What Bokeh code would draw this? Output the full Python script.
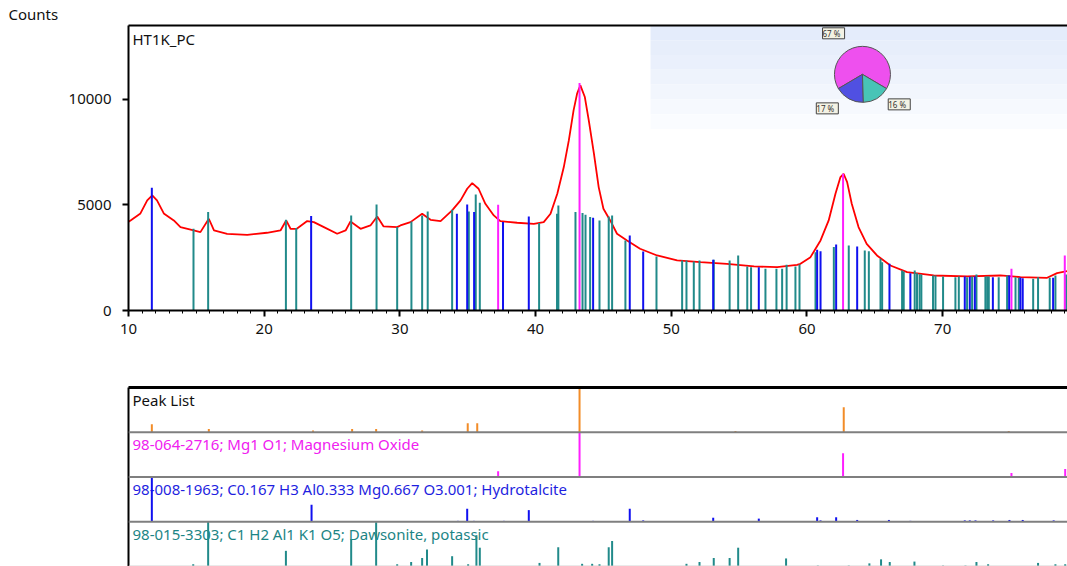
from bokeh.plotting import figure
from bokeh.layouts import column
from bokeh.models import Range1d, FixedTicker, Label, LinearAxis, Span, ColumnDataSource
from bokeh.embed import file_html
from bokeh.resources import INLINE
from bokeh.core.properties import value
import math

FONT = "Noto Sans"

# ---------------- data ----------------
# measured pattern (2theta, counts)
scan_x = [10.0, 10.15, 10.88, 11.38, 11.75, 12.1, 12.6, 13.34, 13.83, 14.8, 15.3, 15.92, 16.3,
          17.27, 18.75, 20.2, 21.2, 21.62, 21.94, 22.4, 23.17, 23.66, 24.4, 25.38, 26.0, 26.36,
          27.1, 27.83, 28.33, 28.8, 29.8, 30.04, 30.78, 31.64, 32.26, 33.0, 33.85, 34.47, 34.96,
          35.33, 35.8, 36.3, 36.92, 37.4, 38.64, 39.87, 40.6, 41.1, 41.6, 42.08, 42.45, 42.8,
          43.06, 43.3, 43.63, 43.92, 44.3, 44.65, 45.0, 45.5, 46.0, 46.74, 47.7, 48.96, 50.43,
          52.15, 54.1, 56.1, 57.8, 59.27, 59.52, 60.26, 61.0, 61.6, 62.1, 62.47, 62.7, 62.96,
          63.3, 63.8, 64.4, 65.16, 66.15, 67.38, 69.34, 71.8, 74.26, 75.73, 77.7, 78.43, 79.17]
scan_y = [4200, 4266, 4598, 5214, 5451, 5214, 4598, 4266, 3950, 3792, 3713, 4346, 3792,
          3634, 3587, 3682, 3792, 4266, 3871, 3871, 4235, 4187, 3950, 3634, 3792, 4219,
          3871, 4029, 4456, 3982, 3950, 4029, 4187, 4582, 4297, 4235, 4740, 5214, 5767,
          6035, 5767, 5056, 4503, 4235, 4156, 4108, 4187, 4582, 5530, 6794, 8058, 9480,
          10272, 10665, 10111, 9006, 7427, 5845, 4820, 4266, 3634, 3318, 2924, 2607, 2370,
          2291, 2212, 2086, 2054, 2165, 2212, 2528, 3318, 4266, 5530, 6320, 6478, 6083,
          5056, 3950, 3160, 2607, 2133, 1817, 1659, 1612, 1659, 1580, 1549, 1770, 1865]

# reference sticks drawn in the main panel (2theta, counts)
hyd_top_x = [11.72, 23.46, 34.2, 34.96, 35.47, 37.6, 39.5, 44.24, 46.94, 47.93, 53.09, 56.45,
             60.75, 61.0, 62.15, 63.7, 66.08, 67.62, 71.63, 72.0, 72.37, 73.7, 74.9, 75.73,
             75.9, 78.14]
hyd_top_y = [5816, 4471, 4582, 5025, 4661, 4187, 4456, 4392, 3555, 2797, 2402, 2054,
             2876, 2812, 3128, 3034, 2212, 1770, 1612, 1600, 1612, 1580, 1659, 1560,
             1533, 1549]
mgo_top_x = [37.24, 43.24, 62.66, 75.07, 79.0]
mgo_top_y = [5009, 10775, 6478, 1975, 2607]
daw_top_x = [14.79, 15.87, 21.6, 22.36, 26.41, 28.28, 29.8, 30.85, 31.64, 32.05, 33.85, 35.08,
             35.59, 35.89, 40.26, 41.58, 41.68, 42.94, 43.46, 43.68, 44.02, 44.71, 45.39, 45.64,
             46.62, 48.91, 50.8, 51.12, 51.66, 52.08, 53.13, 54.3, 54.93, 55.6, 55.88, 56.94,
             57.75, 58.17, 58.5, 59.15, 59.45, 60.63, 61.98, 63.08, 64.26, 64.56, 65.42, 65.54,
             67.01, 67.13, 67.94, 68.11, 68.3, 68.43, 69.29, 69.47, 70.03, 70.94, 71.19, 71.8,
             72.17, 72.49, 73.15, 73.28, 73.4, 74.13, 74.75, 75.37, 75.61, 76.67, 77.03, 77.89,
             78.31, 79.1]
daw_top_y = [3871, 4661, 4297, 3903, 4503, 5025, 3950, 4219, 4503, 4693, 4771, 4693,
             5498, 5103, 4140, 4582, 4977, 4661, 4613, 4535, 4424, 4266, 4456, 4503,
             3318, 2560, 2370, 2370, 2323, 2370, 2402, 2370, 2607, 2086, 2054, 1975,
             1975, 1975, 2165, 2086, 2180, 2765, 3002, 3081, 2844, 2812, 2449, 2290,
             1896, 1850, 1896, 1770, 1720, 1706, 1659, 1659, 1612, 1580, 1612, 1580,
             1612, 1706, 1612, 1612, 1612, 1580, 1659, 1580, 1549, 1502, 1580, 1549,
             1659, 1706]

# lower panel: relative intensities (% of row height)
peak_x = [11.72, 15.92, 23.6, 26.48, 28.25, 31.64, 35.0, 35.7, 43.24, 54.73, 62.71, 74.87]
peak_i = [18, 7, 4, 7, 7, 4, 20, 20, 100, 3, 56, 3]
mgo_x = [37.24, 43.24, 62.66, 75.07, 79.03]
mgo_i = [13, 100, 53, 9, 18]
hyd_x = [11.72, 23.49, 34.27, 34.96, 35.45, 37.66, 39.5, 44.24, 46.94, 47.93, 53.09, 56.45,
         60.75, 61.0, 62.15, 63.7, 66.04, 67.62, 71.63, 72.0, 72.42, 73.72, 74.92, 75.9, 78.18]
hyd_i = [100, 38, 2, 29, 2, 2, 26, 2, 29, 3, 9, 7,
         10, 3, 10, 4, 4, 2, 3, 3, 3, 3, 4, 4, 3]
daw_x = [14.77, 15.87, 21.6, 26.41, 28.25, 29.8, 30.83, 31.64, 32.0, 33.85, 35.03, 35.64,
         35.89, 40.29, 41.67, 43.43, 44.17, 44.71, 45.39, 45.64, 51.12, 52.08, 53.13, 54.3,
         54.93, 58.46, 60.8, 63.08, 64.6, 65.46, 66.1, 67.92, 70.03, 71.68, 72.49, 73.35,
         77.03, 78.31, 79.03]
daw_i = [5, 100, 35, 61, 99, 5, 10, 19, 38, 23, 5, 70,
         42, 8, 43, 6, 6, 5, 43, 57, 6, 10, 19, 19,
         42, 18, 2, 2, 7, 16, 10, 11, 2, 2, 10, 5,
         8, 5, 5]

row_names = ["Peak List",
             "98-064-2716; Mg1 O1; Magnesium Oxide",
             "98-008-1963; C0.167 H3 Al0.333 Mg0.667 O3.001; Hydrotalcite",
             "98-015-3303; C1 H2 Al1 K1 O5; Dawsonite, potassic"]

pie_values = [67, 17, 16]
pie_labels = ["67 %", "17 %", "16 %"]

x_ticks = [10, 20, 30, 40, 50, 60, 70]
y_ticks = [0, 5000, 10000]

# ---------------- colours ----------------
RED = "#FF0000"
BLUE = "#1010F0"
TEAL = "#218A8A"
MAG = "#FF1FFF"
ORANGE = "#F28C28"

X0, X1 = 10, 79.2
Y1 = 13500


def border_axis(fig, side, width):
    ax = LinearAxis(ticker=FixedTicker(ticks=[]), major_label_text_font_size="0px",
                    major_tick_out=0, minor_tick_out=0, axis_line_width=width,
                    axis_line_color="black")
    fig.add_layout(ax, side)


# ---------------- main panel ----------------
p = figure(width=1067, height=380, x_range=Range1d(X0, X1), y_range=Range1d(0, Y1),
           output_backend="svg", toolbar_location=None, title="Counts",
           min_border_left=128, min_border_right=0, min_border_top=25, min_border_bottom=70)
p.grid.visible = False
p.outline_line_color = None
p.title.align = "left"
p.title.offset = -120
p.title.standoff = 3
p.title.text_font = FONT
p.title.text_font_size = "15px"
p.title.text_font_style = "normal"
p.title.text_color = "#111111"
border_axis(p, "above", 2)

# inset picture background (light blue gradient)
band_cols = ["#E4ECFB", "#E7EEFB", "#EAF0FC", "#EEF3FC", "#F2F6FD", "#F6F9FE", "#FAFCFF"]
ib_x0 = 48.47
ib_y0 = 8600
nb = len(band_cols)
for i, c in enumerate(band_cols):
    top = Y1 - i * (Y1 - ib_y0) / nb
    bot = Y1 - (i + 1) * (Y1 - ib_y0) / nb
    p.quad(left=ib_x0, right=X1 + 1, top=top, bottom=bot, fill_color=c, line_color=None)

# pie
tot = sum(pie_values)
start = math.radians(90) - math.pi * pie_values[0] / tot
angs = []
a = start
for v in pie_values:
    angs.append((a, a + 2 * math.pi * v / tot))
    a += 2 * math.pi * v / tot
pie_cols = ["#EE50EE", "#5050E2", "#48C4B6"]
pie_cx, pie_cy = 64.09, 11186
p.wedge(x=[pie_cx] * 3, y=[pie_cy] * 3, radius=28, radius_units="screen",
        start_angle=[s for s, e in angs], end_angle=[e for s, e in angs],
        fill_color=pie_cols, line_color="#555555", line_width=1)
lab_pos = [(61.96, 13130), (61.5, 9575), (66.8, 9764)]
for (lx, ly), t in zip(lab_pos, pie_labels):
    p.add_layout(Label(x=lx, y=ly, text=" " + t + " ", text_font_size="8px",
                       text_font=FONT, text_align="center", text_baseline="middle",
                       background_fill_color="#F3F2E4", border_line_color="#444444",
                       border_line_width=1, text_color="#333333"))

# measured line
p.line(scan_x, scan_y, line_color=RED, line_width=1.8)

# sticks
p.segment(x0=daw_top_x, y0=[0] * len(daw_top_x), x1=daw_top_x, y1=daw_top_y,
          line_color=TEAL, line_width=2)
p.segment(x0=hyd_top_x, y0=[0] * len(hyd_top_x), x1=hyd_top_x, y1=hyd_top_y,
          line_color=BLUE, line_width=2)
p.segment(x0=mgo_top_x, y0=[0] * len(mgo_top_x), x1=mgo_top_x, y1=mgo_top_y,
          line_color=MAG, line_width=2)

p.add_layout(Label(x=X0, y=Y1, x_offset=4, y_offset=-13, text="HT1K_PC",
                   text_font=FONT, text_font_size="15px", text_baseline="middle",
                   text_color="#111111"))

xax = p.below[0]
yax = p.left[0]
xax.ticker = FixedTicker(ticks=x_ticks, minor_ticks=list(range(11, 80)))
yax.ticker = FixedTicker(ticks=y_ticks, minor_ticks=[])
for ax in (xax, yax):
    ax.axis_line_width = 2
    ax.axis_line_color = "black"
    ax.major_tick_in = 0
    ax.major_tick_out = 6
    ax.minor_tick_in = 0
    ax.minor_tick_out = 3
    ax.major_tick_line_width = 2
    ax.major_label_text_font = FONT
    ax.major_label_text_font_size = "15px"
    ax.major_label_text_color = "#111111"
xax.major_label_standoff = 7
yax.major_label_standoff = 11

# ---------------- lower panel ----------------
q = figure(width=1067, height=186, x_range=p.x_range, y_range=Range1d(0, 4),
           output_backend="svg", toolbar_location=None,
           min_border_left=128, min_border_right=0, min_border_top=7, min_border_bottom=0)
q.grid.visible = False
q.outline_line_color = None
q.xaxis.visible = False
q.yaxis.ticker = FixedTicker(ticks=[])
q.yaxis.major_label_text_font_size = "0px"
q.yaxis.major_tick_out = 0
q.yaxis.minor_tick_out = 0
q.yaxis.axis_line_width = 2
q.yaxis.axis_line_color = "black"
border_axis(q, "above", 3)

txt_src = ColumnDataSource(dict(x=[X0] * 4, y=[4, 3, 2, 1], t=row_names,
                                c=["#111111", "#F020F0", "#1F1FE0", "#1C8585"]))
q.text(x="x", y="y", text="t", text_color="c", source=txt_src, x_offset=4, y_offset=12,
       text_baseline="middle", text_font=value(FONT), text_font_size="15px")

for b in [1, 2, 3]:
    q.add_layout(Span(location=b, dimension="width", line_color="#7F7F7F", line_width=2))
q.add_layout(Span(location=0.01, dimension="width", line_color="#D0D0D0", line_width=1))

rows = [(peak_x, peak_i, 3, ORANGE), (mgo_x, mgo_i, 2, MAG),
        (hyd_x, hyd_i, 1, BLUE), (daw_x, daw_i, 0, TEAL)]
for xs, ints, base, col in rows:
    q.segment(x0=xs, y0=[base] * len(xs), x1=xs, y1=[base + v / 100 for v in ints],
              line_color=col, line_width=2)

lay = column(p, q)
open("out.html", "w").write(file_html(lay, INLINE))
